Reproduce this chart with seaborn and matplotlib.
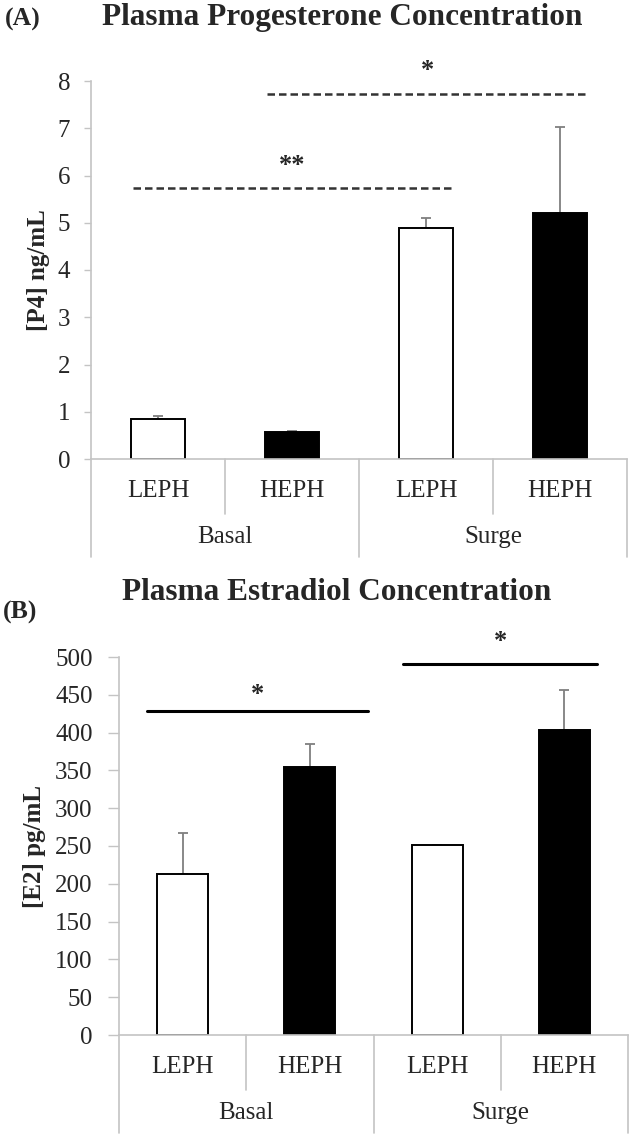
import numpy as np
import pandas as pd
import seaborn as sns
import matplotlib.pyplot as plt
from matplotlib import transforms

# data
groups = ['Basal', 'Basal', 'Surge', 'Surge']
lines = ['LEPH', 'HEPH', 'LEPH', 'HEPH']
p4_mean = [0.85, 0.57, 4.88, 5.20]
p4_err = [0.05, 0.02, 0.23, 1.82]
e2_mean = [213, 355, 251, 404]
e2_err = [54, 30, 0, 52]

# significance bars: (start, end, height, star height, label)
p4_sig = [(-0.19, 2.19, 5.73, 6.21, '**'), (0.81, 3.21, 7.73, 8.23, '*')]
e2_sig = [(-0.28, 1.46, 429, 451, '*'), (1.73, 3.26, 491, 521, '*')]

sns.set_style("white")
plt.rcParams["font.family"] = ["Liberation Serif", "DejaVu Serif"]

grey = "#c4c4c4"
bar_colors = ['white', 'black', 'white', 'black']


def draw_panel(ax, mean, err, ymax, ystep, ylabel, label_x, tick_len, tick_pad, sig, dashed):
    df = pd.DataFrame({
        'cond': [g + ' ' + l for g, l in zip(groups, lines)],
        'mean': mean,
    })
    sns.barplot(data=df, x='cond', y='mean', hue='cond', palette=bar_colors,
                edgecolor='black', linewidth=1.4, width=0.4, errorbar=None,
                legend=False, ax=ax, zorder=2)
    x = np.arange(len(mean))
    ax.errorbar(x, mean, yerr=[np.zeros(len(err)), err], fmt='none',
                ecolor='#7f7f7f', elinewidth=1.3, capsize=3.5, capthick=1.3, zorder=1)

    ax.set_xlim(-0.5, 3.5)
    ax.set_ylim(0, ymax)
    ax.set_yticks(np.arange(0, ymax + ystep / 2, ystep))
    ax.set_xticks([])
    ax.set_xlabel("")
    ax.set_ylabel(ylabel, fontsize=18, fontweight="bold")
    ax.yaxis.set_label_coords(label_x, 0.5)
    ax.tick_params(axis='y', labelsize=18, length=tick_len, width=1, color=grey,
                   pad=tick_pad, left=True)
    for s in ['top', 'right']:
        ax.spines[s].set_visible(False)
    for s in ['left', 'bottom']:
        ax.spines[s].set_color(grey)
        ax.spines[s].set_linewidth(1.2)

    # separators and category labels below the axis
    trans = transforms.blended_transform_factory(ax.transData, ax.transAxes)
    for b in [-0.5, 0.5, 1.5, 2.5, 3.5]:
        depth = -0.26 if b in (-0.5, 1.5, 3.5) else -0.145
        ax.plot([b, b], [0, depth], color=grey, lw=1.2, transform=trans, clip_on=False)
    for xi, name in zip(x, lines):
        ax.text(xi, -0.085, name, transform=trans, ha='center', va='center', fontsize=18)
    for xi, name in [(0.5, 'Basal'), (2.5, 'Surge')]:
        ax.text(xi, -0.207, name, transform=trans, ha='center', va='center', fontsize=18)

    # significance markers
    for x0, x1, h, sh, lab in sig:
        if dashed:
            ax.plot([x0, x1], [h, h], color='#333333', lw=1.8, ls=(0, (3, 1.6)), clip_on=False)
        else:
            ax.plot([x0, x1], [h, h], color='black', lw=2.2, clip_on=False)
        ax.text((x0 + x1) / 2, sh, lab, ha='center', va='center', fontsize=19,
                fontweight='bold', clip_on=False)


fig = plt.figure(figsize=(6.3, 11.41), dpi=100)
ax1 = fig.add_axes([91 / 630, 1 - 459 / 1141, 536 / 630, 378 / 1141])
ax2 = fig.add_axes([119 / 630, 1 - 1035 / 1141, 509 / 630, 378 / 1141])

draw_panel(ax1, p4_mean, p4_err, 8, 1, "[P4] ng/mL", -0.077, 5, 10, p4_sig, True)
draw_panel(ax2, e2_mean, e2_err, 500, 50, "[E2] pg/mL", -0.143, 8, 11, e2_sig, False)

# panel titles and letters
fig.text(342 / 630, 1 - 17 / 1141, "Plasma Progesterone Concentration", ha='center', va='center',
         fontsize=22.5, fontweight='bold')
fig.text(5 / 630, 1 - 19 / 1141, "(A)", ha='left', va='center', fontsize=18.5, fontweight='bold')
fig.text(337 / 630, 1 - 592 / 1141, "Plasma Estradiol Concentration", ha='center', va='center',
         fontsize=22.5, fontweight='bold')
fig.text(3 / 630, 1 - 612 / 1141, "(B)", ha='left', va='center', fontsize=18.5, fontweight='bold')

plt.savefig("out.png", dpi=100)
